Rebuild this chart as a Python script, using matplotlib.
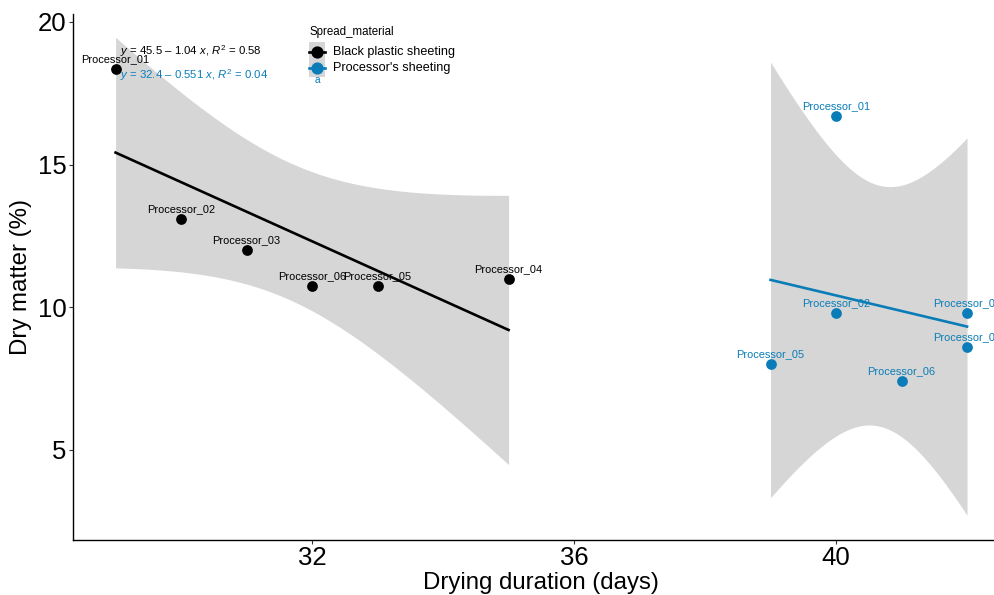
import numpy as np
import matplotlib
matplotlib.use("Agg")
import matplotlib.pyplot as plt
from matplotlib.patches import Rectangle
from matplotlib.lines import Line2D

# data
black_x = [29, 30, 31, 32, 33, 35]
black_y = [18.35, 13.1, 12.0, 10.75, 10.75, 11.0]
black_labels = ["Processor_01", "Processor_02", "Processor_03",
                "Processor_06", "Processor_05", "Processor_04"]

blue_x = [39, 40, 40, 41, 42, 42]
blue_y = [8.0, 16.7, 9.8, 7.4, 9.8, 8.6]
blue_labels = ["Processor_05", "Processor_01", "Processor_02",
               "Processor_06", "Processor_03", "Processor_04"]

groups = ["Black plastic sheeting", "Processor's sheeting"]
eq_texts = [r"$\mathit{y}$ = 45.5 – 1.04 $\mathit{x}$, $\mathit{R}^2$ = 0.58",
            r"$\mathit{y}$ = 32.4 – 0.551 $\mathit{x}$, $\mathit{R}^2$ = 0.04"]

BLACK = "#000000"
BLUE = "#0A7DB8"
RIBBON = "#D6D6D6"
T_975_DF4 = 2.776  # t quantile for 95% CI, n = 6

plt.rcParams['font.family'] = ['Liberation Sans', 'DejaVu Sans']
plt.rcParams['mathtext.fontset'] = 'custom'
plt.rcParams['mathtext.rm'] = 'Liberation Sans'
plt.rcParams['mathtext.it'] = 'Liberation Sans:italic'

W, H = 994, 595
fig = plt.figure(figsize=(W / 100, H / 100), dpi=100)
# the panel runs past the right edge of the image, as in the reference
ax = fig.add_axes([73 / W, 55 / H, 936.6 / W, 526 / H])


def fit_with_band(x, y):
    x = np.asarray(x, float)
    y = np.asarray(y, float)
    slope, intercept = np.polyfit(x, y, 1)
    resid = y - (intercept + slope * x)
    n = len(x)
    s = np.sqrt(np.sum(resid ** 2) / (n - 2))
    sxx = np.sum((x - x.mean()) ** 2)
    grid = np.linspace(x.min(), x.max(), 80)
    fit = intercept + slope * grid
    se = s * np.sqrt(1 / n + (grid - x.mean()) ** 2 / sxx)
    return grid, fit, fit - T_975_DF4 * se, fit + T_975_DF4 * se


for xs, ys, labels, col in [(black_x, black_y, black_labels, BLACK),
                            (blue_x, blue_y, blue_labels, BLUE)]:
    grid, fit, lo, hi = fit_with_band(xs, ys)
    ax.fill_between(grid, lo, hi, color=RIBBON, lw=0, zorder=1)
    ax.plot(grid, fit, color=col, lw=1.9, zorder=2)
    ax.scatter(xs, ys, s=60, color=col, zorder=3, lw=0)
    for xi, yi, lab in zip(xs, ys, labels):
        ax.annotate(lab, (xi, yi), xytext=(0, 3.5), textcoords="offset points",
                    ha="center", va="bottom", fontsize=7.9, color=col,
                    zorder=4, annotation_clip=False)

ax.text(0.05, 0.93, eq_texts[0], transform=ax.transAxes, fontsize=8.2,
        color=BLACK, va="center", ha="left", zorder=5)
ax.text(0.05, 0.883, eq_texts[1], transform=ax.transAxes, fontsize=8.2,
        color=BLUE, va="center", ha="left", zorder=5)

ax.set_xlim(28.35, 42.65)
ax.set_ylim(1.84, 20.28)
ax.set_xticks([32, 36, 40])
ax.set_yticks([5, 10, 15, 20])
ax.tick_params(labelsize=18.5, length=3, width=0.8, color="#333333", pad=1.5)
ax.set_xlabel("Drying duration (days)", fontsize=17.3, labelpad=1)
ax.set_ylabel("Dry matter (%)", fontsize=17.3, labelpad=4)
for side in ["top", "right"]:
    ax.spines[side].set_visible(False)
for side in ["left", "bottom"]:
    ax.spines[side].set_linewidth(1.0)


# legend drawn by hand in figure pixels
def fx(px):
    return px / W


def fy(py):
    return 1 - py / H


fig.text(fx(310), fy(32), "Spread_material", fontsize=8.3, va="center", ha="left")
fig.add_artist(Rectangle((fx(309), fy(77)), fx(16), 35 / H,
                         transform=fig.transFigure, color=RIBBON, lw=0))
fig.text(fx(317), fy(58), "-", fontsize=6, va="center", ha="center", color=BLACK)
for key_y, name, col in [(52, groups[0], BLACK), (68, groups[1], BLUE)]:
    fig.add_artist(Line2D([fx(309), fx(325)], [fy(key_y), fy(key_y)],
                          transform=fig.transFigure, color=col, lw=1.9))
    fig.add_artist(Line2D([fx(317)], [fy(key_y)], transform=fig.transFigure,
                          color=col, marker="o", markersize=7.8, lw=0))
    fig.text(fx(333), fy(key_y), name, fontsize=9.1, va="center", ha="left")
fig.text(fx(317), fy(80), "a", fontsize=7.3, va="center", ha="center", color=BLUE)

fig.savefig("out.png", dpi=100)
